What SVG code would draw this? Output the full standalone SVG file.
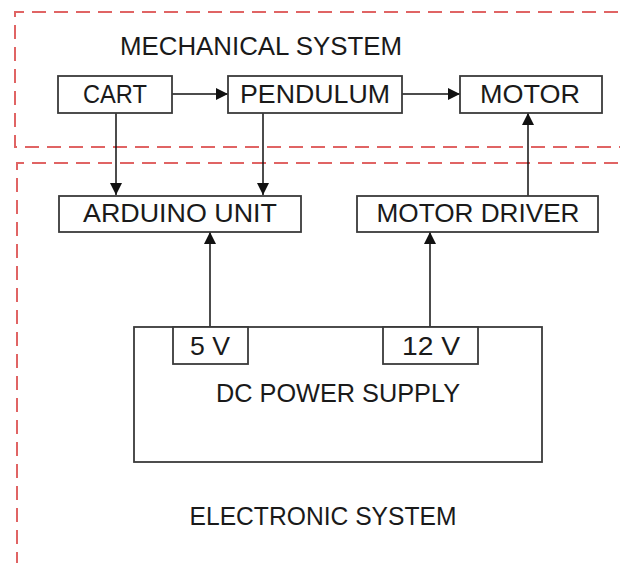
<svg xmlns="http://www.w3.org/2000/svg" width="620" height="563" viewBox="0 0 620 563">
<defs>
<marker id="ah" viewBox="0 0 10 10" refX="10" refY="5" markerWidth="12" markerHeight="12" markerUnits="userSpaceOnUse" orient="auto">
<path d="M0,0 L10,5 L0,10 Z" fill="#111"/>
</marker>
<style>
.zone{fill:none;stroke:#e06464;stroke-width:2;stroke-dasharray:14 8}
.box{fill:#fff;stroke:#3a3a3a;stroke-width:1.8}
.t{font-family:"Liberation Sans",Arial,sans-serif;font-size:25px;fill:#1a1a1a;text-anchor:middle}
.c{stroke:#111;stroke-width:1.5;fill:none;marker-end:url(#ah)}
</style>
</defs>
<rect width="620" height="563" fill="#fff"/>
<g id="mechanical-zone">
<path class="zone" d="M640,12 H15 V147 H640"/>
<text class="t" x="261" y="55" textLength="282" lengthAdjust="spacingAndGlyphs">MECHANICAL SYSTEM</text>
</g>
<g id="electronic-zone">
<path class="zone" d="M640,163 H17 V600"/>
<text class="t" x="323" y="525" textLength="267" lengthAdjust="spacingAndGlyphs">ELECTRONIC SYSTEM</text>
</g>
<g id="connectors">
<line class="c" x1="172" y1="94" x2="228" y2="94"/>
<line class="c" x1="402" y1="94" x2="460" y2="94"/>
<line class="c" x1="116" y1="113" x2="116" y2="195"/>
<line class="c" x1="263" y1="113" x2="263" y2="195"/>
<line class="c" x1="528" y1="196" x2="528" y2="113"/>
<line class="c" x1="210" y1="327" x2="210" y2="232"/>
<line class="c" x1="430" y1="327" x2="430" y2="232"/>
</g>
<g id="cart">
<rect class="box" x="58" y="76" width="114" height="37"/>
<text class="t" x="115" y="103" textLength="64" lengthAdjust="spacingAndGlyphs">CART</text>
</g>
<g id="pendulum">
<rect class="box" x="228" y="76" width="174" height="37"/>
<text class="t" x="315" y="103" textLength="150" lengthAdjust="spacingAndGlyphs">PENDULUM</text>
</g>
<g id="motor">
<rect class="box" x="460" y="76" width="142" height="37"/>
<text class="t" x="530" y="103" textLength="100" lengthAdjust="spacingAndGlyphs">MOTOR</text>
</g>
<g id="arduino">
<rect class="box" x="59" y="196" width="242" height="36"/>
<text class="t" x="180" y="222" textLength="194" lengthAdjust="spacingAndGlyphs">ARDUINO UNIT</text>
</g>
<g id="motor-driver">
<rect class="box" x="357" y="196" width="241" height="36"/>
<text class="t" x="478" y="222" textLength="203" lengthAdjust="spacingAndGlyphs">MOTOR DRIVER</text>
</g>
<g id="power-supply">
<rect class="box" x="134" y="327" width="408" height="135"/>
<text class="t" x="338" y="402" textLength="244" lengthAdjust="spacingAndGlyphs">DC POWER SUPPLY</text>
</g>
<g id="v5">
<rect class="box" x="173" y="327" width="75" height="37"/>
<text class="t" x="210" y="355" textLength="40" lengthAdjust="spacingAndGlyphs">5 V</text>
</g>
<g id="v12">
<rect class="box" x="383" y="327" width="95" height="37"/>
<text class="t" x="431" y="355" textLength="58" lengthAdjust="spacingAndGlyphs">12 V</text>
</g>
</svg>
